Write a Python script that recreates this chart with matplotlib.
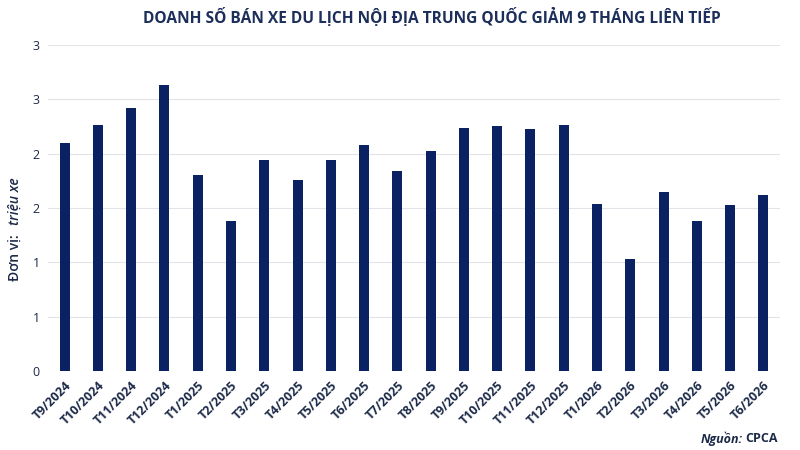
import matplotlib.pyplot as plt
import numpy as np

# Dữ liệu doanh số (triệu xe)
thang = ['T9/2024', 'T10/2024', 'T11/2024', 'T12/2024', 'T1/2025', 'T2/2025',
         'T3/2025', 'T4/2025', 'T5/2025', 'T6/2025', 'T7/2025', 'T8/2025',
         'T9/2025', 'T10/2025', 'T11/2025', 'T12/2025', 'T1/2026', 'T2/2026',
         'T3/2026', 'T4/2026', 'T5/2026', 'T6/2026']
doanh_so = [2.10, 2.26, 2.42, 2.63, 1.80, 1.38,
            1.94, 1.76, 1.94, 2.08, 1.84, 2.02,
            2.24, 2.25, 2.23, 2.26, 1.54, 1.03,
            1.65, 1.38, 1.53, 1.62]
y_ticks = [0, 0.5, 1.0, 1.5, 2.0, 2.5, 3.0]
y_tick_labels = ['0', '1', '1', '2', '2', '3', '3']

plt.rcParams['font.family'] = ['Open Sans', 'DejaVu Sans']

bar_color = '#0b2262'
text_color = '#1c2a48'

fig = plt.figure(figsize=(8, 4.5), dpi=100)
ax = fig.add_axes([0.06, 0.176, 0.915, 0.724])

x = np.arange(len(thang))
ax.bar(x, doanh_so, width=0.3, color=bar_color, zorder=3)

ax.set_xlim(-0.5, len(thang) - 0.5)
ax.set_ylim(0, 3.0)
ax.set_yticks(y_ticks)
ax.set_yticklabels(y_tick_labels, fontsize=9, color=text_color)
ax.set_xticks(x)
ax.set_xticklabels(thang, rotation=45, ha='right', rotation_mode='anchor',
                   fontsize=9, fontweight='bold', color=text_color)
ax.tick_params(axis='both', length=0, pad=6)
ax.grid(axis='y', color='#e3e3ea', linewidth=0.8, zorder=0)
for s in ax.spines.values():
    s.set_visible(False)

fig.text(0.54, 0.96, 'DOANH SỐ BÁN XE DU LỊCH NỘI ĐỊA TRUNG QUỐC GIẢM 9 THÁNG LIÊN TIẾP',
         ha='center', va='center', fontsize=11.2, fontweight='bold', color='#1c2e5a')

# nhãn trục y: phần "triệu xe" in nghiêng
fig.text(0.018, 0.427, 'Đơn vị:', rotation=90, ha='center', va='center',
         fontsize=10, fontweight='semibold', color=text_color)
fig.text(0.018, 0.553, 'triệu xe', rotation=90, ha='center', va='center',
         fontsize=10, fontweight='semibold', style='italic', color=text_color)

fig.text(0.929, 0.025, 'Nguồn:', ha='right', va='center', fontsize=9,
         fontweight='bold', style='italic', color=text_color)
fig.text(0.932, 0.025, 'CPCA', ha='left', va='center', fontsize=9,
         fontweight='bold', color=text_color)

plt.savefig('out.png', dpi=100, facecolor='white')
